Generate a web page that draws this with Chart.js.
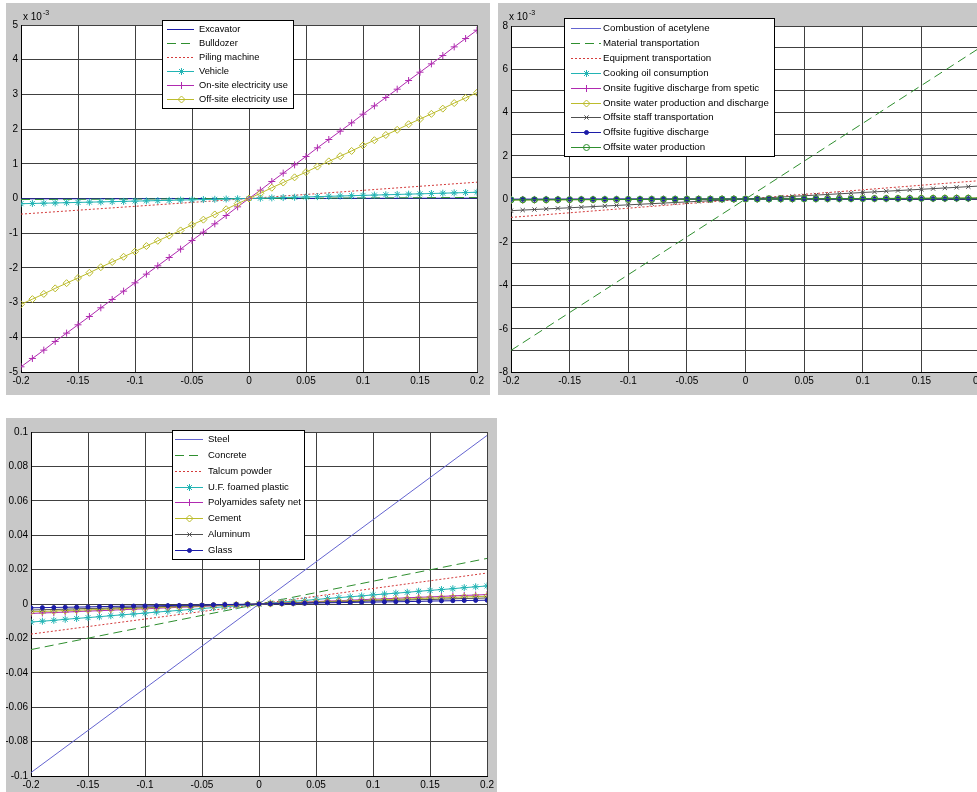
<!DOCTYPE html>
<html>
<head>
<meta charset="utf-8">
<script src="https://cdn.jsdelivr.net/npm/chart.js@4/dist/chart.umd.min.js"></script>
<style>
  html, body { margin: 0; padding: 0; width: 977px; height: 792px; overflow: hidden; background: #fff; }
  .panel { position: absolute; background: #c8c8c8; }
  canvas { display: block; }
</style>
</head>
<body>
<div class="panel" style="left:6px;top:3px;width:484px;height:392px"><canvas id="c1" width="484" height="392"></canvas></div>
<div class="panel" style="left:498px;top:3px;width:492px;height:392px"><canvas id="c2" width="492" height="392"></canvas></div>
<div class="panel" style="left:6px;top:418px;width:491px;height:381px"><canvas id="c3" width="491" height="381"></canvas></div>
<script>
// x steps of the sensitivity runs (-20% .. +20%)
const xSteps = [-0.2,-0.19,-0.18,-0.17,-0.16,-0.15,-0.14,-0.13,-0.12,-0.11,-0.1,-0.09,-0.08,-0.07,-0.06,-0.05,-0.04,-0.03,-0.02,-0.01,0,
  0.01,0.02,0.03,0.04,0.05,0.06,0.07,0.08,0.09,0.1,0.11,0.12,0.13,0.14,0.15,0.16,0.17,0.18,0.19,0.2];
const xEnds = [-0.2, 0, 0.2];

// top left panel, values in 1e-3
const excavator = [-0.01, 0, 0.01];
const bulldozer = [-0.03, 0, 0.03];
const pilingMachine = [-0.45, 0, 0.47];
const vehicle = [-0.150,-0.143,-0.135,-0.128,-0.120,-0.113,-0.105,-0.098,-0.090,-0.083,-0.075,-0.068,-0.060,-0.053,-0.045,-0.038,-0.030,-0.023,-0.015,-0.008,0,
  0.009,0.018,0.027,0.036,0.045,0.054,0.063,0.072,0.081,0.090,0.099,0.108,0.117,0.126,0.135,0.144,0.153,0.162,0.171,0.180];
const onsiteElec = [-4.85,-4.61,-4.37,-4.12,-3.88,-3.64,-3.40,-3.15,-2.91,-2.67,-2.43,-2.18,-1.94,-1.70,-1.46,-1.21,-0.97,-0.73,-0.49,-0.24,0,
  0.24,0.49,0.73,0.97,1.21,1.46,1.70,1.94,2.18,2.43,2.67,2.91,3.15,3.40,3.64,3.88,4.12,4.37,4.61,4.85];
const offsiteElec = [-3.05,-2.90,-2.75,-2.59,-2.44,-2.29,-2.14,-1.98,-1.83,-1.68,-1.53,-1.37,-1.22,-1.07,-0.92,-0.76,-0.61,-0.46,-0.31,-0.15,0,
  0.15,0.31,0.46,0.61,0.76,0.92,1.07,1.22,1.37,1.53,1.68,1.83,1.98,2.14,2.29,2.44,2.59,2.75,2.90,3.05];

// top right panel, values in 1e-3
const acetylene = [-0.02, 0, 0.02];
const materialTransport = [-7.0, 0, 7.0];
const equipmentTransport = [-0.85, 0, 0.85];
const cookingOil = [-0.030,-0.029,-0.027,-0.026,-0.024,-0.023,-0.021,-0.020,-0.018,-0.017,-0.015,-0.014,-0.012,-0.011,-0.009,-0.008,-0.006,-0.005,-0.003,-0.002,0,
  0.002,0.003,0.005,0.006,0.008,0.009,0.011,0.012,0.014,0.015,0.017,0.018,0.020,0.021,0.023,0.024,0.026,0.027,0.029,0.030];
const onsiteFugitive = [-0.020,-0.019,-0.018,-0.017,-0.016,-0.015,-0.014,-0.013,-0.012,-0.011,-0.010,-0.009,-0.008,-0.007,-0.006,-0.005,-0.004,-0.003,-0.002,-0.001,0,
  0.001,0.002,0.003,0.004,0.005,0.006,0.007,0.008,0.009,0.010,0.011,0.012,0.013,0.014,0.015,0.016,0.017,0.018,0.019,0.020];
const onsiteWater = [-0.050,-0.048,-0.045,-0.043,-0.040,-0.038,-0.035,-0.033,-0.030,-0.028,-0.025,-0.023,-0.020,-0.018,-0.015,-0.013,-0.010,-0.008,-0.005,-0.003,0,
  0.003,0.005,0.008,0.010,0.013,0.015,0.018,0.020,0.023,0.025,0.028,0.030,0.033,0.035,0.038,0.040,0.043,0.045,0.048,0.050];
const offsiteStaff = [-0.540,-0.513,-0.486,-0.459,-0.432,-0.405,-0.378,-0.351,-0.324,-0.297,-0.270,-0.243,-0.216,-0.189,-0.162,-0.135,-0.108,-0.081,-0.054,-0.027,0,
  0.03,0.06,0.09,0.12,0.15,0.18,0.21,0.24,0.27,0.30,0.33,0.36,0.39,0.42,0.45,0.48,0.51,0.54,0.57,0.60];
const offsiteFugitive = [-0.010,-0.010,-0.009,-0.009,-0.008,-0.008,-0.007,-0.007,-0.006,-0.006,-0.005,-0.005,-0.004,-0.004,-0.003,-0.003,-0.002,-0.002,-0.001,-0.001,0,
  0.001,0.001,0.002,0.002,0.003,0.003,0.004,0.004,0.005,0.005,0.006,0.006,0.007,0.007,0.008,0.008,0.009,0.009,0.010,0.010];
const offsiteWaterProd = [-0.040,-0.038,-0.036,-0.034,-0.032,-0.030,-0.028,-0.026,-0.024,-0.022,-0.020,-0.018,-0.016,-0.014,-0.012,-0.010,-0.008,-0.006,-0.004,-0.002,0,
  0.002,0.004,0.006,0.008,0.010,0.012,0.014,0.016,0.018,0.020,0.022,0.024,0.026,0.028,0.030,0.032,0.034,0.036,0.038,0.040];

// bottom panel, materials
const steel = [-0.098, 0, 0.098];
const concrete = [-0.0265, 0, 0.0265];
const talcum = [-0.0175, 0, 0.018];
const ufPlastic = [-0.0105,-0.0100,-0.0095,-0.0089,-0.0084,-0.0079,-0.0074,-0.0068,-0.0063,-0.0058,-0.0053,-0.0047,-0.0042,-0.0037,-0.0032,-0.0026,-0.0021,-0.0016,-0.0011,-0.0005,0,
  0.0005,0.0011,0.0016,0.0021,0.0026,0.0032,0.0037,0.0042,0.0047,0.0053,0.0058,0.0063,0.0068,0.0074,0.0079,0.0084,0.0089,0.0095,0.0100,0.0105];
const polyamides = [-0.0055,-0.0052,-0.0050,-0.0047,-0.0044,-0.0041,-0.0039,-0.0036,-0.0033,-0.0030,-0.0028,-0.0025,-0.0022,-0.0019,-0.0017,-0.0014,-0.0011,-0.0008,-0.0006,-0.0003,0,
  0.0003,0.0006,0.0008,0.0011,0.0014,0.0017,0.0019,0.0022,0.0025,0.0028,0.0030,0.0033,0.0036,0.0039,0.0041,0.0044,0.0047,0.0050,0.0052,0.0055];
const cement = [-0.0045,-0.0043,-0.0041,-0.0038,-0.0036,-0.0034,-0.0032,-0.0029,-0.0027,-0.0025,-0.0023,-0.0020,-0.0018,-0.0016,-0.0014,-0.0011,-0.0009,-0.0007,-0.0005,-0.0002,0,
  0.0002,0.0005,0.0007,0.0009,0.0011,0.0014,0.0016,0.0018,0.0020,0.0023,0.0025,0.0027,0.0029,0.0032,0.0034,0.0036,0.0038,0.0041,0.0043,0.0045];
const aluminum = [-0.0035,-0.0033,-0.0032,-0.0030,-0.0028,-0.0026,-0.0025,-0.0023,-0.0021,-0.0019,-0.0018,-0.0016,-0.0014,-0.0012,-0.0011,-0.0009,-0.0007,-0.0005,-0.0004,-0.0002,0,
  0.0002,0.0004,0.0005,0.0007,0.0009,0.0011,0.0012,0.0014,0.0016,0.0018,0.0019,0.0021,0.0023,0.0025,0.0026,0.0028,0.0030,0.0032,0.0033,0.0035];
const glass = [-0.0022,-0.0021,-0.0020,-0.0019,-0.0018,-0.0017,-0.0015,-0.0014,-0.0013,-0.0012,-0.0011,-0.0010,-0.0009,-0.0008,-0.0007,-0.0006,-0.0004,-0.0003,-0.0002,-0.0001,0,
  0.0001,0.0002,0.0003,0.0004,0.0006,0.0007,0.0008,0.0009,0.0010,0.0011,0.0012,0.0013,0.0014,0.0015,0.0017,0.0018,0.0019,0.0020,0.0021,0.0022];

const FONT = '"Liberation Sans", Arial, sans-serif';
const col = {
  blue: '#6464d0', green: '#2f8f2f', red: '#d43c3c', cyan: '#22b4b4',
  magenta: '#b02ab0', yellow: '#bcbc2c', gray: '#505050', navy: '#1c1ca8'
};

function drawMarker(c, style, x, y, r, stroke, fill) {
  c.save();
  c.strokeStyle = stroke;
  c.fillStyle = fill;
  c.lineWidth = 1;
  c.setLineDash([]);
  c.beginPath();
  if (style === 'cross' || style === 'star') {
    c.moveTo(x - r, y); c.lineTo(x + r, y);
    c.moveTo(x, y - r); c.lineTo(x, y + r);
  }
  if (style === 'crossRot' || style === 'star') {
    const d = r * Math.SQRT1_2;
    c.moveTo(x - d, y - d); c.lineTo(x + d, y + d);
    c.moveTo(x - d, y + d); c.lineTo(x + d, y - d);
  }
  if (style === 'rectRot') {
    c.moveTo(x, y - r); c.lineTo(x + r, y); c.lineTo(x, y + r); c.lineTo(x - r, y); c.closePath();
    c.fill();
  }
  if (style === 'circle') {
    c.arc(x, y, r, 0, Math.PI * 2);
    c.fill();
  }
  c.stroke();
  c.restore();
}

// white plot area
const plotBg = {
  id: 'plotBg',
  beforeDraw(chart) {
    const a = chart.chartArea;
    chart.ctx.save();
    chart.ctx.fillStyle = '#fff';
    chart.ctx.fillRect(a.left, a.top, a.right - a.left, a.bottom - a.top);
    chart.ctx.restore();
  }
};

// matlab style legend box
const boxLegend = {
  id: 'boxLegend',
  afterDraw(chart, args, o) {
    if (!o || !o.w) return;
    const c = chart.ctx;
    c.save();
    c.fillStyle = '#fff';
    c.fillRect(o.x, o.y, o.w, o.h);
    c.strokeStyle = '#000';
    c.lineWidth = 1;
    c.strokeRect(o.x + 0.5, o.y + 0.5, o.w, o.h);
    chart.data.datasets.forEach((ds, i) => {
      const yy = Math.round(o.y + o.first + i * o.row) + 0.5;
      c.strokeStyle = ds.borderColor;
      c.lineWidth = 1;
      c.setLineDash(ds.borderDash);
      c.beginPath();
      c.moveTo(o.x0, yy);
      c.lineTo(o.x1, yy);
      c.stroke();
      c.setLineDash([]);
      if (ds.pointRadius > 0) {
        drawMarker(c, ds.pointStyle, Math.round((o.x0 + o.x1) / 2) + 0.5, yy, ds.pointRadius, ds.borderColor, ds.pointBackgroundColor);
      }
      c.fillStyle = '#000';
      c.font = o.font;
      c.textBaseline = 'middle';
      c.fillText(ds.label, o.tx, yy);
    });
    c.restore();
  }
};

// "x 10^-3" above the y axis
const expLabel = {
  id: 'expLabel',
  afterDraw(chart, args, o) {
    if (!o || !o.exp) return;
    const c = chart.ctx;
    c.save();
    c.fillStyle = '#000';
    c.font = '10px ' + FONT;
    c.fillText('x 10', o.x, o.y);
    const w = c.measureText('x 10').width;
    c.font = '7px ' + FONT;
    c.fillText(o.exp, o.x + w + 1, o.y - 5);
    c.restore();
  }
};

function fmt(v) {
  return String(Math.round(v * 1000) / 1000);
}

function makeChart(id, series, cfg) {
  const ctx = document.getElementById(id).getContext('2d');
  return new Chart(ctx, {
    type: 'line',
    data: {
      datasets: series.map((s, i) => ({
        label: s.label,
        data: s.xs.map((x, j) => ({ x: x, y: s.ys[j] })),
        borderColor: s.color,
        backgroundColor: s.fill || 'transparent',
        borderWidth: 1,
        borderDash: s.dash || [],
        pointStyle: s.marker || 'circle',
        pointRadius: s.marker ? s.size : 0,
        pointBorderColor: s.color,
        pointBackgroundColor: s.fill || 'transparent',
        pointBorderWidth: 1,
        tension: 0,
        fill: false,
        order: -i
      }))
    },
    options: {
      responsive: false,
      animation: false,
      devicePixelRatio: 1,
      layout: { padding: { top: cfg.top, right: cfg.right, left: 0, bottom: 0 } },
      plugins: {
        legend: { display: false },
        tooltip: { enabled: false },
        boxLegend: cfg.legend,
        expLabel: cfg.exp || {}
      },
      scales: {
        x: {
          type: 'linear',
          min: -0.2,
          max: 0.2,
          afterFit: s => { s.height = 23; },
          border: { color: '#000', width: 1 },
          grid: { color: '#404040', drawTicks: false },
          ticks: {
            stepSize: 0.05, autoSkip: false, maxRotation: 0, padding: 3,
            color: '#000', font: { family: FONT, size: 10 },
            callback: v => fmt(v)
          }
        },
        y: {
          type: 'linear',
          min: cfg.ymin,
          max: cfg.ymax,
          afterFit: s => { s.width = cfg.left; },
          border: { color: '#000', width: 1 },
          grid: { color: '#404040', drawTicks: false },
          ticks: {
            stepSize: cfg.ystep, autoSkip: false, padding: 3,
            color: '#000', font: { family: FONT, size: 10 },
            callback: cfg.ylab
          }
        }
      }
    },
    plugins: [plotBg, boxLegend, expLabel]
  });
}

makeChart('c1', [
  { label: 'Excavator', xs: xEnds, ys: excavator, color: col.navy },
  { label: 'Bulldozer', xs: xEnds, ys: bulldozer, color: col.green, dash: [9, 5] },
  { label: 'Piling machine', xs: xEnds, ys: pilingMachine, color: col.red, dash: [2, 2] },
  { label: 'Vehicle', xs: xSteps, ys: vehicle, color: col.cyan, marker: 'star', size: 3.5 },
  { label: 'On-site electricity use', xs: xSteps, ys: onsiteElec, color: col.magenta, marker: 'cross', size: 3.5 },
  { label: 'Off-site electricity use', xs: xSteps, ys: offsiteElec, color: col.yellow, marker: 'rectRot', size: 3.5 }
], {
  top: 22, right: 13, left: 15, ymin: -5, ymax: 5, ystep: 1,
  ylab: v => fmt(v),
  exp: { exp: '-3', x: 17, y: 17 },
  legend: { x: 156, y: 17, w: 131, h: 88, first: 9, row: 14, x0: 161, x1: 188, tx: 193, font: '9.3px ' + FONT }
});

makeChart('c2', [
  { label: 'Combustion of acetylene', xs: xEnds, ys: acetylene, color: col.blue },
  { label: 'Material transportation', xs: xEnds, ys: materialTransport, color: col.green, dash: [9, 5] },
  { label: 'Equipment transportation', xs: xEnds, ys: equipmentTransport, color: col.red, dash: [2, 2] },
  { label: 'Cooking oil consumption', xs: xSteps, ys: cookingOil, color: col.cyan, marker: 'star', size: 3.5 },
  { label: 'Onsite fugitive discharge from spetic', xs: xSteps, ys: onsiteFugitive, color: col.magenta, marker: 'cross', size: 3.5 },
  { label: 'Onsite water production and discharge', xs: xSteps, ys: onsiteWater, color: col.yellow, marker: 'rectRot', size: 3.5 },
  { label: 'Offsite staff transportation', xs: xSteps, ys: offsiteStaff, color: col.gray, marker: 'crossRot', size: 3 },
  { label: 'Offsite fugitive discharge', xs: xSteps, ys: offsiteFugitive, color: col.navy, marker: 'circle', size: 2, fill: col.navy },
  { label: 'Offsite water production', xs: xSteps, ys: offsiteWaterProd, color: col.green, marker: 'circle', size: 3 }
], {
  top: 23, right: 7, left: 13, ymin: -8, ymax: 8, ystep: 1,
  ylab: v => (Math.round(v) % 2 === 0 ? String(Math.round(v)) : ''),
  exp: { exp: '-3', x: 11, y: 17 },
  legend: { x: 66, y: 15, w: 210, h: 138, first: 10, row: 14.9, x0: 73, x1: 103, tx: 105, font: '9.7px ' + FONT }
});

makeChart('c3', [
  { label: 'Steel', xs: xEnds, ys: steel, color: col.blue },
  { label: 'Concrete', xs: xEnds, ys: concrete, color: col.green, dash: [9, 5] },
  { label: 'Talcum powder', xs: xEnds, ys: talcum, color: col.red, dash: [2, 2] },
  { label: 'U.F. foamed plastic', xs: xSteps, ys: ufPlastic, color: col.cyan, marker: 'star', size: 3.5 },
  { label: 'Polyamides safety net', xs: xSteps, ys: polyamides, color: col.magenta, marker: 'cross', size: 3.5 },
  { label: 'Cement', xs: xSteps, ys: cement, color: col.yellow, marker: 'rectRot', size: 3.5 },
  { label: 'Aluminum', xs: xSteps, ys: aluminum, color: col.gray, marker: 'crossRot', size: 3 },
  { label: 'Glass', xs: xSteps, ys: glass, color: col.navy, marker: 'circle', size: 2, fill: col.navy }
], {
  top: 14, right: 6, left: 25, ymin: -0.1, ymax: 0.1, ystep: 0.02,
  ylab: v => fmt(v),
  legend: { x: 166, y: 12, w: 132, h: 129, first: 9, row: 15.86, x0: 169, x1: 197, tx: 202, font: '9.5px ' + FONT }
});
</script>
</body>
</html>
